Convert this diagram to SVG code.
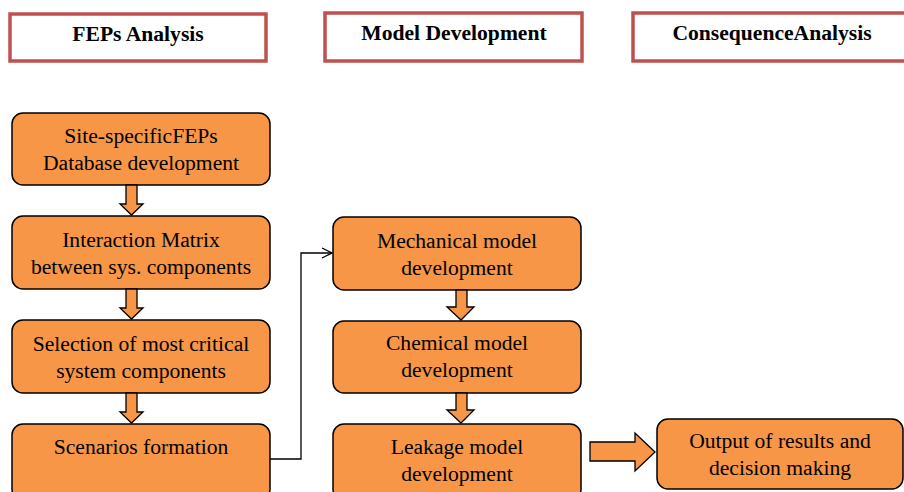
<svg xmlns="http://www.w3.org/2000/svg" width="904" height="492" viewBox="0 0 904 492">
<defs>
<style>
.hdr{fill:#fff;stroke:#C0504D;stroke-width:3.5}
.ht{font-family:"Liberation Serif",serif;font-weight:bold;font-size:21.6px;fill:#000;text-anchor:middle}
.box{fill:#F79646;stroke:#000;stroke-width:1.5}
.t{font-family:"Liberation Serif",serif;font-size:21.6px;fill:#000;text-anchor:middle}
.blk{fill:#F79646;stroke:#000;stroke-width:1.3;stroke-linejoin:miter}
.ln{fill:none;stroke:#000;stroke-width:1.3}
</style>
<marker id="open" viewBox="0 0 12 12" refX="11" refY="6" markerWidth="12" markerHeight="12" markerUnits="userSpaceOnUse" orient="auto">
<path d="M1,1 L11,6 L1,11" fill="none" stroke="#000" stroke-width="1.3"/>
</marker>
</defs>
<rect width="904" height="492" fill="#fff"/>
<g id="hdr-feps"><rect class="hdr" x="10" y="14" width="256" height="47"/><text class="ht" x="138" y="41">FEPs Analysis</text></g>
<g id="hdr-model"><rect class="hdr" x="325" y="13" width="257" height="48"/><text class="ht" x="454" y="40">Model Development</text></g>
<g id="hdr-cons"><rect class="hdr" x="633" y="13" width="275" height="48"/><text class="ht" x="772" y="40">ConsequenceAnalysis</text></g>

<g id="n-site"><rect class="box" x="12" y="113" width="258" height="72" rx="11"/><text class="t" x="141" y="143">Site-specificFEPs</text><text class="t" x="141" y="170">Database development</text></g>
<g id="n-matrix"><rect class="box" x="12" y="216" width="258" height="73" rx="11"/><text class="t" x="141" y="247">Interaction Matrix</text><text class="t" x="141" y="274">between sys. components</text></g>
<g id="n-select"><rect class="box" x="12" y="320" width="258" height="73" rx="11"/><text class="t" x="141" y="351">Selection of most critical</text><text class="t" x="141" y="378">system components</text></g>
<g id="n-scen"><rect class="box" x="12" y="424" width="258" height="76" rx="11"/><text class="t" x="141" y="454">Scenarios formation</text></g>

<g id="n-mech"><rect class="box" x="333" y="217" width="248" height="73" rx="11"/><text class="t" x="457" y="248">Mechanical model</text><text class="t" x="457" y="275">development</text></g>
<g id="n-chem"><rect class="box" x="333" y="321" width="248" height="72" rx="11"/><text class="t" x="457" y="350">Chemical model</text><text class="t" x="457" y="377">development</text></g>
<g id="n-leak"><rect class="box" x="333" y="424" width="248" height="76" rx="11"/><text class="t" x="457" y="454">Leakage model</text><text class="t" x="457" y="481">development</text></g>

<g id="n-out"><rect class="box" x="657" y="419" width="246" height="70" rx="11"/><text class="t" x="780" y="448">Output of results and</text><text class="t" x="780" y="475">decision making</text></g>

<g id="connectors">
<path class="blk" d="M126,185 H137 V204 H143 L131.5,215 L120,204 H126 Z"/>
<path class="blk" d="M126,289 H137 V308 H143 L131.5,319 L120,308 H126 Z"/>
<path class="blk" d="M126,393 H137 V412 H143 L131.5,423 L120,412 H126 Z"/>
<path class="blk" d="M456,290 H467 V307 H474 L461,320 L447,307 H456 Z"/>
<path class="blk" d="M456,393 H467 V410 H474 L461,423 L447,410 H456 Z"/>
<path class="blk" d="M590,442 H635 V433 L655,452 L635,471 V461 H590 Z"/>
<path class="ln" d="M270,459 H301 V253 H332" marker-end="url(#open)"/>
</g>
</svg>
